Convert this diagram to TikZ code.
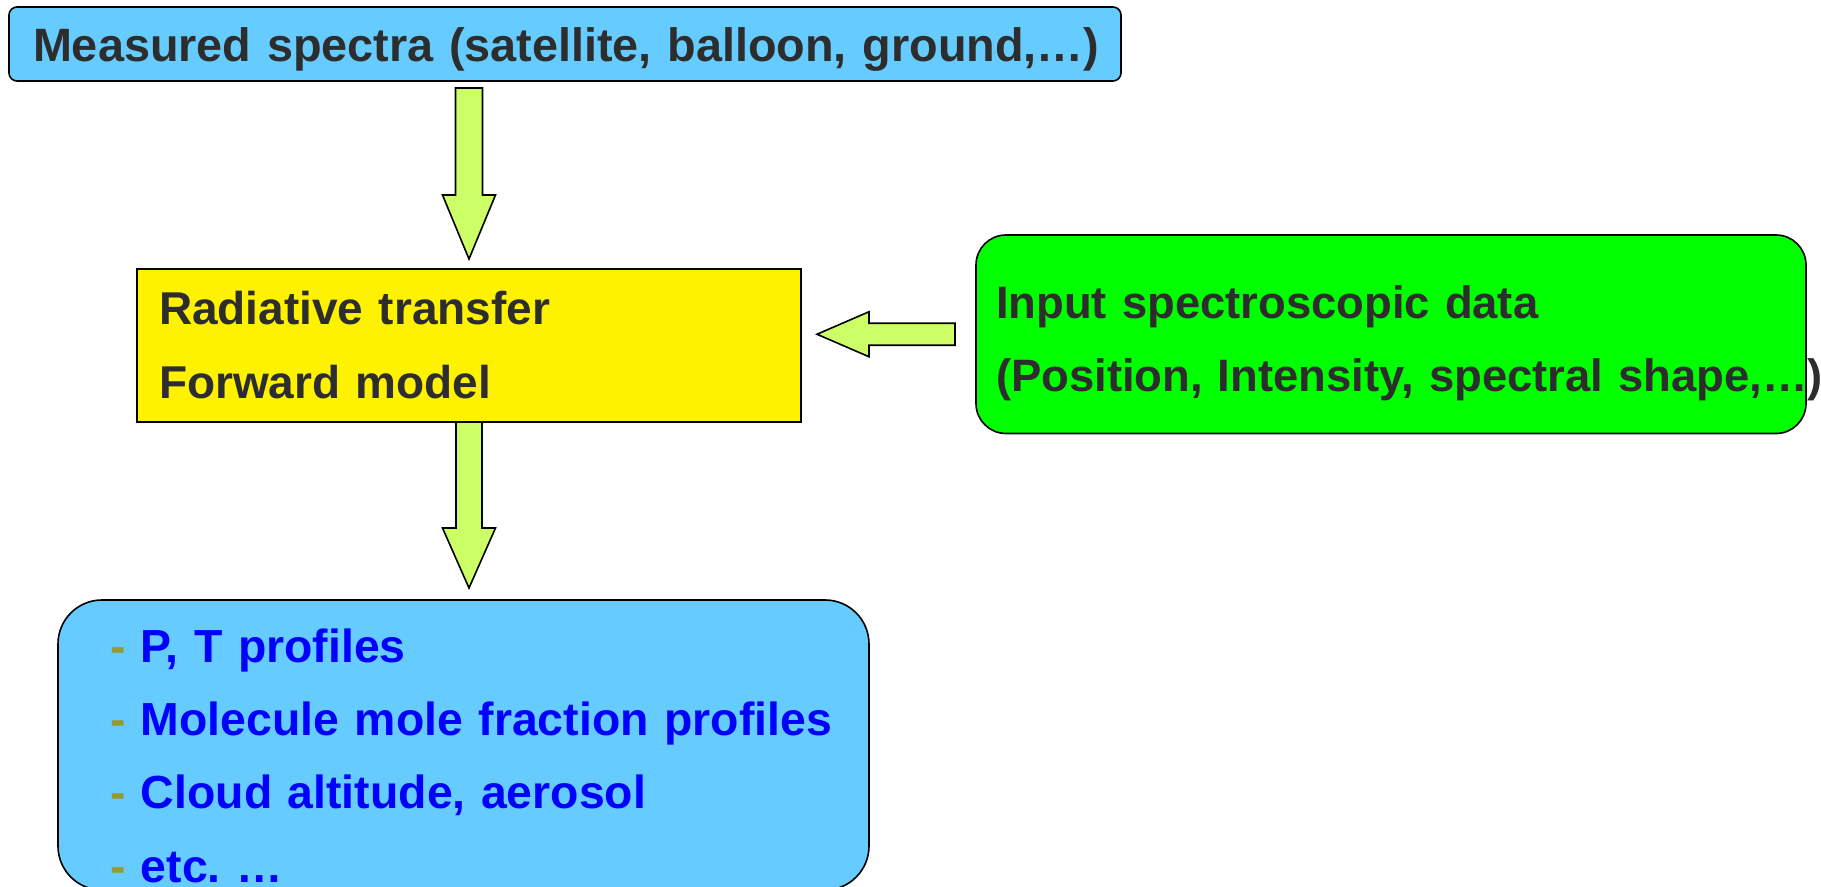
\documentclass[tikz,border=0pt]{standalone}
\usepackage{fontspec}
\setmainfont{Liberation Sans}
\usepackage{xcolor}
\usepackage{tikz}
\usetikzlibrary{positioning,calc}
\definecolor{skyblue}{RGB}{102,204,255}
\definecolor{limefill}{RGB}{204,255,102}
\definecolor{brightgreen}{RGB}{0,255,0}
\definecolor{txtgray}{RGB}{45,45,45}
\definecolor{dashol}{RGB}{153,153,51}
\newcommand{\itemline}[1]{\mbox{\textcolor{dashol}{-} #1}}
\frenchspacing

\begin{document}
\begin{tikzpicture}[x=0.5pt, y=-0.5pt,
  box/.style={draw, line width=0.8pt, align=left, inner ysep=0pt, outer sep=0pt,
              anchor=north west, font=\fontsize{#1}{36.6}\selectfont\bfseries, text=txtgray},
  box/.default=23,
  fat/.style n args={3}{draw, line width=0.8pt, fill=limefill, line join=miter,
    to path={let \p1=(\tikztostart), \p2=(\tikztotarget),
      \n1={atan2(\y2-\y1,\x2-\x1)}, \n2={veclen(\x2-\x1,\y2-\y1)-#3} in
      ($(\p1)+(\n1+90:#1)$) -- ($(\p1)+(\n1:\n2)+(\n1+90:#1)$)
      -- ($(\p1)+(\n1:\n2)+(\n1+90:#2)$) -- (\p2)
      -- ($(\p1)+(\n1:\n2)+(\n1-90:#2)$) -- ($(\p1)+(\n1:\n2)+(\n1-90:#1)$)
      -- ($(\p1)+(\n1-90:#1)$) -- cycle}}]
\useasboundingbox (0,0) rectangle (1821,887);
\node[box=23.4, fill=skyblue, rounded corners=4pt, inner xsep=12pt, text width=532pt,
      text height=27.5pt, text depth=9.5pt] (meas) at (9,7)
  {\mbox{Measured spectra (satellite, balloon, ground,…)}};
\node[box, fill=yellow, inner xsep=11pt, text width=310pt,
      text height=28pt, text depth=48.5pt] (rtm) at (137,269)
  {Radiative transfer\\Forward model};
\node[box=22.7, fill=brightgreen, rounded corners=15pt, inner xsep=10pt, text width=395pt,
      text height=41.75pt, text depth=57.5pt] (spec) at (976,235)
  {Input spectroscopic data\\\mbox{(Position, Intensity, spectral shape,…)}};
\node[box=23.2, fill=skyblue, rounded corners=22pt, inner xsep=26pt, text width=353.5pt,
      text height=31.25pt, text depth=113.75pt, text=blue] (res) at (58,600)
  {\itemline{P, T profiles}\\\itemline{Molecule mole fraction profiles}\\
   \itemline{Cloud altitude, aerosol}\\\itemline{etc. …}};
\draw[fat={6.75pt}{13.25pt}{32pt}] ($(rtm.north |- meas.south)+(0,-3.5pt)$) to ([yshift=5pt]rtm.north);
\draw[fat={6.5pt}{13.25pt}{30pt}] (rtm.south) to ([yshift=6pt]rtm.south |- res.north);
\draw[fat={5.5pt}{11.25pt}{26pt}] ([xshift=-10.5pt]spec.west) to ([xshift=8pt]rtm.east |- spec.west);
\end{tikzpicture}
\end{document}
